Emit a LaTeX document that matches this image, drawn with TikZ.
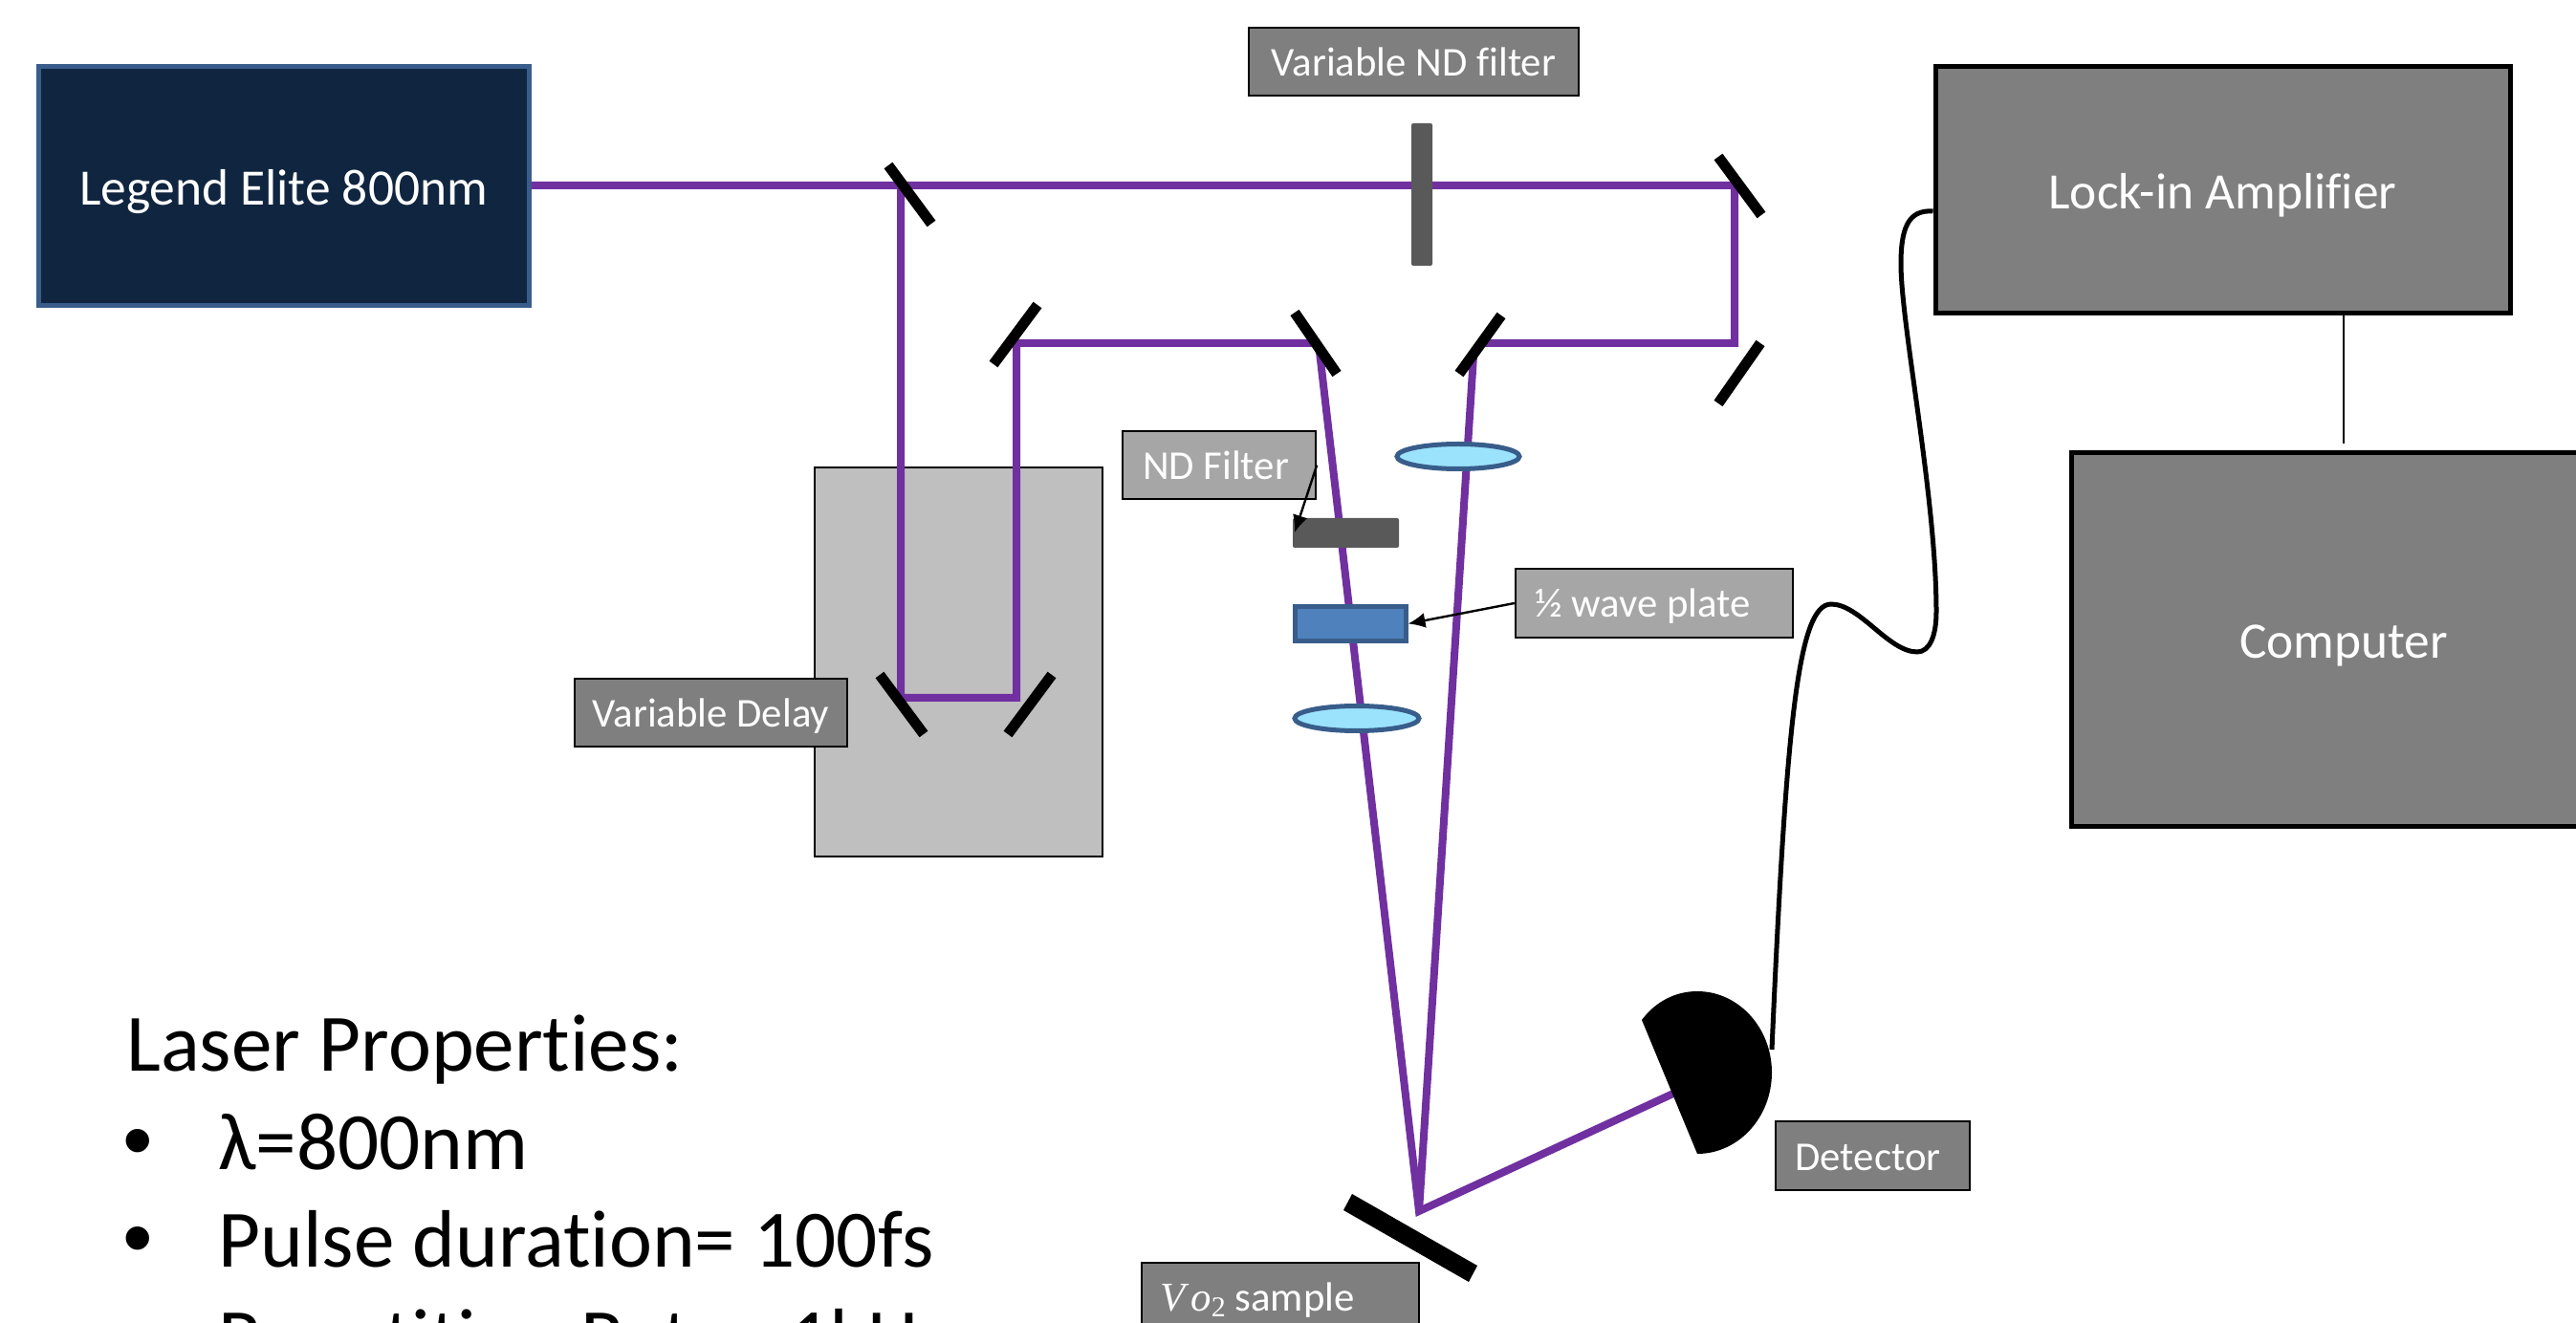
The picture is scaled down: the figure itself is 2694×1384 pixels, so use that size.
\documentclass[tikz,border=0pt]{standalone}
\usepackage{fontspec}
\setmainfont[Ligatures=NoCommon]{Carlito}
\newfontfamily\bulfont{Liberation Sans}
\newfontfamily\sermath{Liberation Serif}
\usetikzlibrary{arrows.meta,shapes.geometric}
\definecolor{beamc}{HTML}{7030A0}
\definecolor{navy}{HTML}{10253F}
\definecolor{bordb}{HTML}{385D8A}
\definecolor{gmid}{HTML}{7F7F7F}
\definecolor{glight}{HTML}{A6A6A6}
\definecolor{gpale}{HTML}{BFBFBF}
\definecolor{gdark}{HTML}{595959}
\definecolor{lensc}{HTML}{9BE3FD}
\definecolor{plate}{HTML}{4F81BD}
\newcommand{\lowbig}[1]{\raisebox{-9.7pt}[0pt][0pt]{#1}}
\newcommand{\lowsmall}[1]{\raisebox{-7.5pt}[0pt][0pt]{#1}}
\newcommand{\trail}[1]{\rule{#1}{0pt}}
\tikzset{
  box/.style={draw=black,rectangle,inner sep=0pt,text=white,line width=1.2pt},
  bigbox/.style={box,line width=2.5pt,fill=gmid,font=\fontsize{26.7}{32}\selectfont},
  smallbox/.style={box,font=\fontsize{21.4}{26}\selectfont},
  beam/.style={draw=beamc,line width=4pt,line join=miter},
  mirror/.style={draw=black,line width=5.5pt},
  lens/.style={ellipse,draw=bordb,line width=2.5pt,fill=lensc,inner sep=0pt},
  ptr/.style={draw=black,line width=1.2pt,-{Latex[length=9pt,width=8pt]}},
  wire/.style={draw=black,line width=2.5pt},
  prop/.style={anchor=base west,inner sep=0pt,text=black,font=\fontsize{42.6}{51}\selectfont},
  bul/.style={anchor=base,inner sep=0pt,text=black,font=\bulfont\fontsize{45}{54}\selectfont}
}
\begin{document}
\begin{tikzpicture}[x=0.5pt,y=-0.5pt]
\useasboundingbox (0,0) rectangle (2694,1384);
\clip (0,0) rectangle (2694,1384);
% delay stage
\node[box,fill=gpale,minimum width=150.5pt,minimum height=203.5pt] (stage) at (1002.5,692.5) {};
% laser
\node[box,draw=bordb,line width=2.5pt,fill=navy,minimum width=256.5pt,minimum height=125pt,font=\fontsize{26.7}{32}\selectfont] (laser) at (296.5,195) {\lowbig{Legend Elite 800nm}};
% beam way points
\coordinate (bs) at (942,194);
\coordinate (tr) at (1814,194);
\coordinate (mr) at (1814,359);
\coordinate (m2) at (1550,359);
\coordinate (dl) at (942,730);
\coordinate (dr) at (1063,730);
\coordinate (ur) at (1063,359);
\coordinate (m3) at (1375,359);
\coordinate (ap) at (1484,1267);
\coordinate (dt) at (1752,1143);
\draw[beam] (laser.east |- bs) -- (tr) -- (mr) -- (m2) -- (1541,372) -- (ap);
\draw[beam] (bs) -- (dl) -- (dr) -- (ur) -- (m3) -- (1380,368) -- (ap) -- (dt);
% mirrors
\draw[mirror] (929,173) -- (974,234);
\draw[mirror] (1797,164) -- (1842,225);
\draw[mirror] (1841,359) -- (1797,422);
\draw[mirror] (1570,330) -- (1526,391);
\draw[mirror] (1354,327) -- (1398,391);
\draw[mirror] (1085,319) -- (1039,381);
\draw[mirror] (920,706) -- (966,768);
\draw[mirror] (1100,706) -- (1054,768);
% sample mirror
\fill[black] (1414,1249) -- (1405,1266) -- (1536,1341) -- (1545,1324) -- cycle;
% optics
\node[rectangle,rounded corners=1pt,fill=gdark,draw=none,minimum width=11pt,minimum height=74.5pt,inner sep=0pt] (ndvar) at (1487,203.5) {};
\node[lens,minimum width=64pt,minimum height=13pt] (lensa) at (1525,477.5) {};
\node[lens,minimum width=65pt,minimum height=13pt] (lensb) at (1419,751.5) {};
\node[rectangle,rounded corners=1pt,fill=gdark,draw=none,minimum width=55.5pt,minimum height=15.5pt,inner sep=0pt] (ndf) at (1407.5,557.5) {};
\node[rectangle,fill=plate,draw=bordb,line width=2.5pt,minimum width=58pt,minimum height=18pt,inner sep=0pt] (hwp) at (1412,652.5) {};
% detector
\fill[black] (1775,1207) .. controls (1818,1207) and (1853,1169) .. (1853,1122) .. controls (1853,1075) and (1818,1037) .. (1775,1037) .. controls (1752,1037) and (1731,1048) .. (1717,1067) -- cycle;
% instruments
\node[bigbox,minimum width=300.5pt,minimum height=129pt] (lockin) at (2324.5,199) {\lowbig{Lock-in Amplifier}};
\node[bigbox,minimum width=285pt,minimum height=195.5pt] (computer) at (2451,669.5) {\lowbig{Computer}};
\coordinate (cend) at (2451,464);
\draw[draw=black,line width=1pt] (lockin.south -| computer.north) -- (cend);
% labels
\node[smallbox,fill=gmid,minimum width=172.5pt,minimum height=35.5pt] (vnd) at (1478.5,64.5) {\lowsmall{Variable ND filter}};
\node[smallbox,fill=glight,minimum width=101pt,minimum height=35.5pt] (ndl) at (1275,486.5) {\lowsmall{ND Filter}\trail{3.4pt}};
\node[smallbox,fill=glight,minimum width=145pt,minimum height=36pt] (hwl) at (1730,631) {\lowsmall{½ wave plate}\trail{12pt}};
\node[smallbox,fill=gmid,minimum width=142.5pt,minimum height=35.5pt] (vdl) at (743.5,745.5) {\lowsmall{Variable Delay}};
\node[smallbox,fill=gmid,minimum width=101.5pt,minimum height=36pt] (detl) at (1958.5,1209) {\lowsmall{Detector}\trail{5pt}};
\node[smallbox,fill=gmid,minimum width=145pt,minimum height=35.5pt] (saml) at (1339,1356.5) {\lowsmall{{\sermath\itshape V\hspace{3pt}o}\raisebox{-3pt}{\sermath\fontsize{15}{18}\selectfont 2} sample}\trail{24pt}};
% pointers
\coordinate (ndtip) at (1354,557);
\draw[ptr] (ndl.east) -- (ndtip);
\draw[ptr] (hwl.west) -- (hwp.east);
% wire
\coordinate (wa) at (2022,221);
\draw[wire] (lockin.west |- wa) .. controls (1995,219) and (1988,240) .. (1988,276) .. controls (1988,340) and (2025,520) .. (2025,640) .. controls (2025,665) and (2018,682) .. (2005,682) .. controls (1975,682) and (1945,632) .. (1915,632) .. controls (1880,632) and (1868,760) .. (1853,1098);
% properties
\node[prop] (p1) at (132,1120) {Laser Properties:};
\node[bul] (b2) at (144,1223) {•};
\node[prop] (p2) at (228,1223) {λ=800nm};
\node[bul] (b3) at (144,1325) {•};
\node[prop] (p3) at (228,1325) {Pulse duration= 100fs};
\node[bul] (b4) at (144,1428) {•};
\node[prop] (p4) at (228,1428) {Repetition Rate= 1kHz};
\end{tikzpicture}
\end{document}
